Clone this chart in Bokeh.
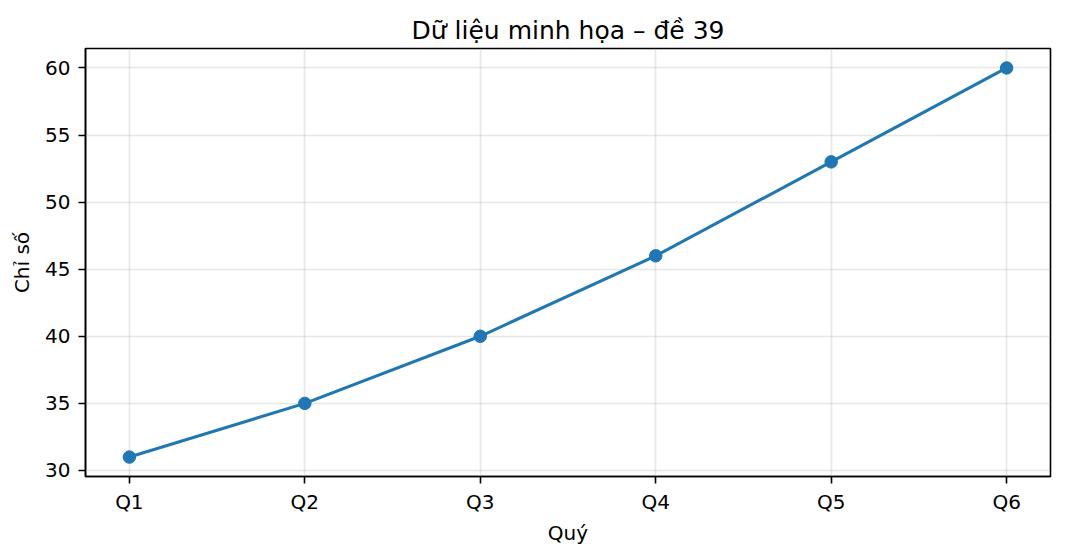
from bokeh.plotting import figure
from bokeh.models import FixedTicker, Range1d
from bokeh.embed import file_html
from bokeh.resources import INLINE

categories = ["Q1", "Q2", "Q3", "Q4", "Q5", "Q6"]
values = [31, 35, 40, 46, 53, 60]
y_ticks = [30, 35, 40, 45, 50, 55, 60]

title_text = "Dữ liệu minh họa – đề 39"
x_label = "Quý"
y_label = "Chỉ số"

FONT = "DejaVu Sans"
BLUE = "#1f77b4"

xs = list(range(len(categories)))
n = len(categories)
ymin, ymax = min(values), max(values)
pad = (ymax - ymin) * 0.05

p = figure(width=1065, height=555, output_backend="svg", toolbar_location=None,
           x_range=Range1d(-0.05 * (n - 1), (n - 1) * 1.05),
           y_range=Range1d(ymin - pad, ymax + pad),
           min_border_left=85, min_border_right=15, min_border_top=48, min_border_bottom=79)

p.title.text = title_text
p.title.align = "center"
p.title.text_font = FONT
p.title.text_font_size = "25px"
p.title.text_font_style = "normal"
p.title.text_color = "black"
p.title.standoff = 8

p.outline_line_color = "black"
p.outline_line_width = 1.6
p.outline_line_alpha = 1.0

for ax in (p.xaxis[0], p.yaxis[0]):
    ax.axis_line_color = "black"
    ax.axis_line_width = 1.6
    ax.major_tick_line_color = "black"
    ax.major_tick_line_width = 1.6
    ax.major_tick_in = 0
    ax.major_tick_out = 7
    ax.minor_tick_line_color = None
    ax.major_label_text_font = FONT
    ax.major_label_text_font_size = "20px"
    ax.major_label_text_color = "black"
    ax.axis_label_text_font = FONT
    ax.axis_label_text_font_size = "20px"
    ax.axis_label_text_font_style = "normal"
    ax.axis_label_text_color = "black"

p.xaxis.ticker = FixedTicker(ticks=xs)
p.xaxis.major_label_overrides = {i: c for i, c in zip(xs, categories)}
p.xaxis.major_label_standoff = 6
p.xaxis.axis_label = x_label
p.xaxis.axis_label_standoff = 4

p.yaxis.ticker = FixedTicker(ticks=y_ticks)
p.yaxis.major_label_standoff = 8
p.yaxis.axis_label = y_label
p.yaxis.axis_label_standoff = 8

p.grid.grid_line_color = "#b0b0b0"
p.grid.grid_line_alpha = 0.3
p.grid.grid_line_width = 1.6

p.line(xs, values, line_color=BLUE, line_width=3.1)
p.scatter(xs, values, size=12.5, fill_color=BLUE, line_color=BLUE)

open("out.html", "w").write(file_html(p, INLINE))
